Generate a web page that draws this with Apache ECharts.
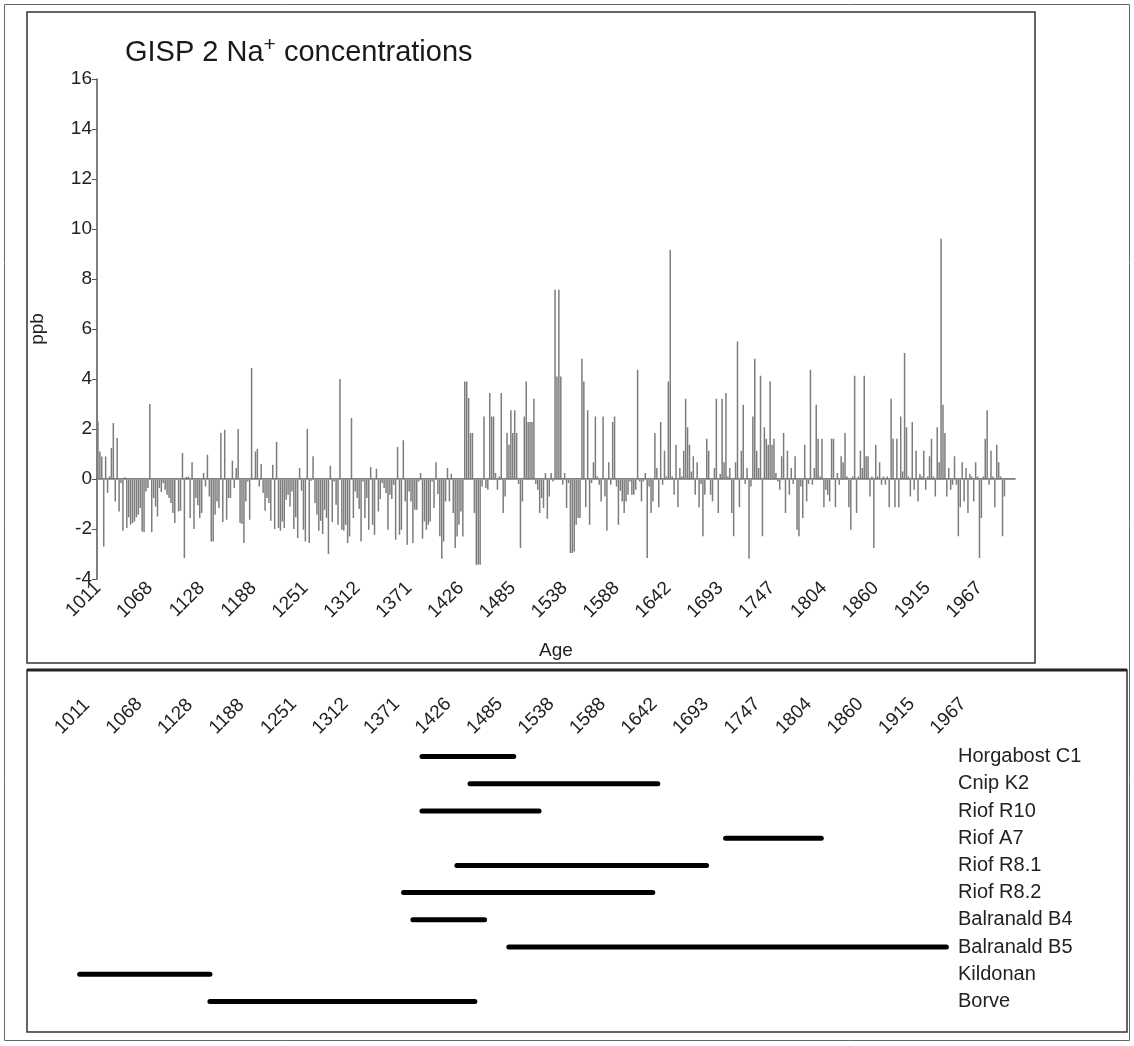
<!DOCTYPE html>
<html><head><meta charset="utf-8">
<script src="https://cdn.jsdelivr.net/npm/echarts@6/dist/echarts.min.js"></script>
<style>html,body{margin:0;padding:0;background:#fff}#c{width:1134px;height:1046px}</style>
</head><body><div id="c"></div>
<script>
const tickLabels = [1011,1068,1128,1188,1251,1312,1371,1426,1485,1538,1588,1642,1693,1747,1804,1860,1915,1967];
const samplesPerTick = 27;
const naValues = [
 2.3,1.1,0.9,-2.7,0.9,-0.56,0.1,1.24,2.24,-0.9,
 1.64,-1.3,-0.16,-2.07,0.07,-1.96,-1.53,-1.83,-1.76,-1.7,
 -1.53,-1.43,-1.16,-2.1,-2.13,-0.5,-0.36,3.0,-2.13,-0.76,
 -1.1,-1.5,-0.36,-0.52,-0.16,-0.43,-0.63,-0.76,-0.96,-1.36,
 -1.76,0,-1.3,-1.27,1.04,-3.16,0.08,0.1,-1.56,0.67,
 -2.0,-0.76,-1.05,-1.56,-1.36,0.24,-0.3,0.97,-0.7,-2.5,
 -2.5,-1.43,-0.9,-1.16,1.84,-1.72,1.97,-1.63,-0.76,-0.76,
 0.73,-0.36,0.44,2.0,-1.76,-1.8,-2.56,-0.9,-0.1,-1.63,
 4.44,0.05,1.1,1.2,-0.3,0.6,-0.56,-1.27,-0.76,-0.96,
 -1.67,0.57,
 -2.0,1.48,-1.96,-2.07,-1.7,-1.96,-0.83,-0.63,-1.1,-0.5,
 -2.0,-1.53,-2.36,0.44,-0.47,-2.03,-2.5,2.0,-2.56,-0.07,
 0.91,-0.96,-1.43,-2.07,-1.67,-2.2,-1.23,-1.56,-3.0,0.53,
 -1.72,-0.1,-1.03,-1.83,4.0,-2.03,-2.07,-1.83,-2.56,-2.3,
 2.44,-1.56,-0.5,-0.76,-1.2,-2.5,-0.1,-1.56,-0.76,-2.03,
 0.48,-1.83,-2.23,0.41,-1.3,-0.8,-0.16,-0.36,-0.56,-2.03,
 -0.63,-0.8,-0.23,-2.43,1.28,-2.23,-2.03,1.55,-0.9,-2.63,
 -0.5,-0.9,-2.56,-1.23,-1.23,-0.1,0.24,-2.39,-1.7,-2.03,
 -1.83,-1.7,-0.1,-1.16,0.67,-0.6,-2.29,-3.19,-2.5,-0.9,
 0.44,-0.9,0.21,-1.36,-2.76,-2.3,-1.83,-1.3,
 -2.3,3.9,3.9,3.24,1.84,1.84,-1.36,-3.43,-3.43,-3.43,
 -0.3,2.5,-0.36,-0.43,3.44,2.5,2.5,0.24,-0.43,0.1,
 3.44,-1.36,-0.7,1.84,1.37,2.75,1.84,2.75,1.84,-0.2,
 -2.76,-0.9,2.5,3.9,2.28,2.28,2.28,3.21,-0.2,-0.43,
 -1.36,-0.76,-1.16,0.24,-1.59,-0.7,0.24,-0.1,7.57,4.1,
 7.57,4.1,-0.23,0.24,-1.16,-0.16,-2.96,-2.96,-2.9,-1.83,
 -1.56,-1.56,4.81,3.9,-1.13,2.75,-1.83,-0.16,0.67,2.5,
 0.1,-0.23,-0.9,2.5,-0.7,-2.07,0.67,-0.23,2.28,2.5,
 -0.3,-1.83,-0.47,-0.9,-1.36,-0.9,-0.63,-0.1,-0.63,-0.63,
 -0.43,4.37,-0.1,-0.9,-0.1,0.24,-3.16,
 -0.3,-1.36,-0.9,1.84,0.44,-1.13,2.28,-0.23,1.13,0.1,
 3.9,9.17,0.1,-0.63,1.37,-1.13,0.44,0.1,1.13,3.21,
 2.07,1.37,0.3,0.91,-0.63,0.67,-1.13,-0.2,-2.29,-0.63,
 1.61,1.13,-0.63,-0.9,0.44,3.21,-1.36,0.2,3.21,0.67,
 3.44,0.1,0.44,-1.36,-2.29,0.67,5.5,-1.13,1.13,2.97,
 -0.2,0.44,-3.19,-0.3,2.5,4.81,1.13,0.44,4.13,-2.29,
 2.07,1.61,1.37,3.9,1.37,1.61,0.24,-0.1,-0.43,0.91,
 1.84,-1.36,1.13,-0.63,0.44,-0.2,0.91,-2.03,-2.29,-0.3,
 -1.56,1.37,-0.9,-0.2,4.37,-0.23,0.44,2.97,1.61,0.1,
 1.61,-1.13,-0.43,-0.63,-0.9,1.61,
 1.61,-1.13,0.24,-0.23,0.91,0.67,1.84,0.1,-1.13,-2.03,
 0.1,4.13,-1.36,0.1,1.13,0.44,4.13,0.91,0.91,-0.7,
 0.1,-2.76,1.37,0.1,0.67,-0.23,0.1,-0.23,0.1,-1.13,
 3.21,1.61,-1.13,1.61,-1.13,2.5,0.3,5.04,2.07,0.1,
 -0.7,2.28,-0.43,1.13,-0.9,0.2,0.1,1.13,-0.43,0.1,
 0.91,1.61,0.1,-0.7,2.07,0.67,9.61,2.97,1.84,-0.7,
 0.44,-0.43,-0.23,0.91,-0.23,-2.29,-1.13,0.67,-0.9,0.44,
 -1.36,0.2,0.1,-0.9,0.67,0.1,-3.16,-1.56,0.1,1.61,
 2.75,-0.23,1.13,0.1,-1.13,1.37,0.67,0.1,-2.29,-0.7,
 null,null,null,null,null
];
const sites = ['Horgabost C1','Cnip K2','Riof R10','Riof A7','Riof R8.1','Riof R8.2','Balranald B4','Balranald B5','Kildonan','Borve'];
const siteStart = [1430,1485,1430,1745,1470,1410,1420,1525,1035,1185];
const siteEnd   = [1530,1675,1555,1850,1725,1670,1500,1980,1185,1490];

const sampleIdx = naValues.map((_, i) => i);
function yearToUnit(y) {
  const t = tickLabels;
  for (let j = 0; j < t.length - 1; j++) {
    if (y <= t[j + 1]) return j + (y - t[j]) / (t[j + 1] - t[j]);
  }
  const n = t.length - 1;
  return n + (y - t[n]) / (t[n] - t[n - 1]);
}
const ganttData = sites.map((s, i) => [yearToUnit(siteStart[i]), yearToUnit(siteEnd[i]), i]);

const FONT = 'Liberation Sans, Arial, sans-serif';
const chart = echarts.init(document.getElementById('c'), null, {renderer: 'canvas'});
chart.setOption({
  animation: false,
  backgroundColor: '#fff',
  textStyle: {fontFamily: FONT},
  title: {
    text: 'GISP 2 Na{sup|+} concentrations',
    left: 120, top: 30,
    textStyle: {fontSize: 29, fontWeight: 'normal', color: '#1a1a1a', fontFamily: FONT,
      rich: {sup: {fontSize: 21, color: '#1a1a1a', padding: [0, 0, 14, 0], fontFamily: FONT}}}
  },
  grid: [
    {left: 97, top: 79, width: 918, height: 500},
    {left: 58, top: 743, width: 892, height: 272}
  ],
  xAxis: [
    {
      type: 'category', gridIndex: 0, data: sampleIdx, boundaryGap: true,
      axisLine: {lineStyle: {color: '#555', width: 1.5}},
      axisTick: {show: false},
      axisLabel: {
        interval: samplesPerTick - 1, rotate: 45, fontSize: 19, color: '#222', margin: 6,
        formatter: (v, idx) => (idx % samplesPerTick === 0 && tickLabels[idx / samplesPerTick] !== undefined) ? String(tickLabels[idx / samplesPerTick]) : ''
      },
      name: 'Age', nameLocation: 'middle', nameGap: 62,
      nameTextStyle: {fontSize: 19, color: '#222'}
    },
    {
      type: 'value', gridIndex: 1, position: 'top', min: 0, max: 892 / 51.5, interval: 1,
      axisLine: {show: false}, axisTick: {show: false}, splitLine: {show: false},
      axisLabel: {
        rotate: -45, fontSize: 19, color: '#222', margin: 12,
        showMaxLabel: false,
        formatter: v => Number.isInteger(v) && tickLabels[v] !== undefined ? String(tickLabels[v]) : ''
      }
    }
  ],
  yAxis: [
    {
      type: 'value', gridIndex: 0, min: -4, max: 16, interval: 2,
      axisLine: {show: true, lineStyle: {color: '#555', width: 1.5}},
      axisTick: {show: true, length: 5, lineStyle: {color: '#555'}},
      splitLine: {show: false},
      axisLabel: {fontSize: 19, color: '#222', margin: 5},
      name: 'ppb', nameLocation: 'middle', nameGap: 50, nameRotate: 90,
      nameTextStyle: {fontSize: 19, color: '#222'}
    },
    {
      type: 'category', gridIndex: 1, data: sites, inverse: true, position: 'right',
      axisLine: {show: false}, axisTick: {show: false}, splitLine: {show: false},
      axisLabel: {fontSize: 20, color: '#222', margin: 8, align: 'left'}
    }
  ],
  series: [
    {
      type: 'bar', xAxisIndex: 0, yAxisIndex: 0, data: naValues,
      barWidth: 1.5, itemStyle: {color: '#7c7c7c'},
      markLine: {silent: true, symbol: 'none', label: {show: false},
        lineStyle: {color: '#999', width: 1, type: 'solid'}, data: [{yAxis: 0}]}
    },
    {
      type: 'custom', xAxisIndex: 1, yAxisIndex: 1, data: ganttData,
      encode: {x: [0, 1], y: 2},
      renderItem: (params, api) => {
        const s = api.coord([api.value(0), api.value(2)]);
        const e = api.coord([api.value(1), api.value(2)]);
        return {type: 'line', shape: {x1: s[0], y1: s[1], x2: e[0], y2: e[1]},
          style: {stroke: '#000', lineWidth: 5, lineCap: 'round'}};
      }
    }
  ],
  graphic: [
    {type: 'rect', shape: {x: 4.5, y: 4.5, width: 1125, height: 1036}, style: {fill: 'none', stroke: '#666', lineWidth: 1}, silent: true},
    {type: 'rect', shape: {x: 27, y: 12, width: 1008, height: 651}, style: {fill: 'none', stroke: '#333', lineWidth: 1.5}, silent: true},
    {type: 'rect', shape: {x: 27, y: 670, width: 1100, height: 362}, style: {fill: 'none', stroke: '#333', lineWidth: 1.5}, silent: true},
    {type: 'line', shape: {x1: 27, y1: 670, x2: 1127, y2: 670}, style: {stroke: '#222', lineWidth: 3}, silent: true}
  ]
});
</script></body></html>
